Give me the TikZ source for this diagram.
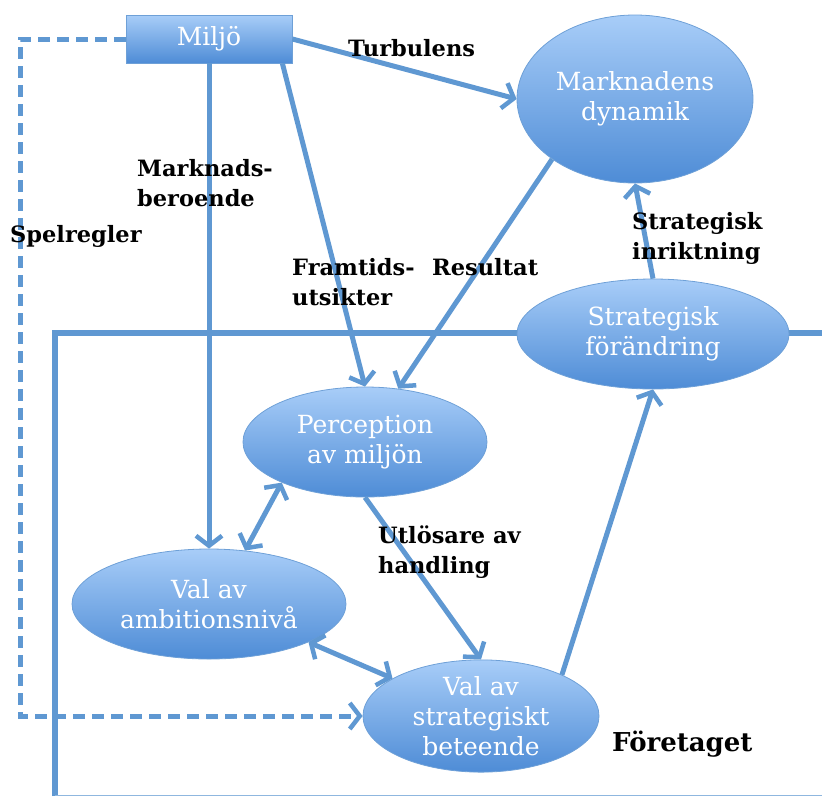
\documentclass[tikz,border=0pt]{standalone}
\usepackage{fontspec}
\setmainfont{DejaVu Serif}
\usetikzlibrary{shapes.geometric,arrows.meta}
\definecolor{linec}{RGB}{95,152,210}
\definecolor{ntop}{RGB}{168,205,248}
\definecolor{nbot}{RGB}{78,140,214}
\definecolor{nborder}{RGB}{110,160,215}
\tikzset{
  box/.style={draw=nborder,line width=0.8pt,top color=ntop,bottom color=nbot,text=white,
    font=\fontsize{25}{30}\selectfont,align=center,inner sep=0pt},
  ell/.style={box,ellipse},
  lbl/.style={font=\bfseries\fontsize{22.5}{30}\selectfont,text=black,align=left,anchor=west,inner sep=0pt},
  tipa/.tip={Straight Barb[length=10pt,width=26pt,line width=4.5pt]},
  arr/.style={draw=linec,line width=5pt,-tipa},
  darr/.style={draw=linec,line width=5pt,tipa-tipa},
  frame/.style={draw=linec,line width=6pt},
  dsh/.style={draw=linec,line width=5pt,dash pattern=on 12pt off 7pt},
}
\begin{document}
\begin{tikzpicture}[x=1pt,y=-1pt]
\useasboundingbox (0,0) rectangle (822,796);
% company frame
\coordinate (f1) at (55,796);
\coordinate (f2) at (55,333);
\coordinate (f3) at (822,333);
\draw[frame,line join=miter] (f1) -- (f2) -- (f3);
\coordinate (b1) at (55,795);
\coordinate (b2) at (822,795);
\draw[draw=linec!70,line width=1pt] (b1) -- (b2);
% nodes
\node[box,minimum width=166pt,minimum height=48pt] (miljo) at (209,39) {Miljö};
\node[ell,minimum width=236pt,minimum height=168pt] (md) at (635,99) {Marknadens\\dynamik};
\node[ell,minimum width=272pt,minimum height=110pt] (sf) at (653,334) {Strategisk\\förändring};
\node[ell,minimum width=244pt,minimum height=110pt] (pm) at (365,442) {Perception\\av miljön};
\node[ell,minimum width=274pt,minimum height=110pt] (va) at (209,604) {Val av\\ambitionsnivå};
\node[ell,minimum width=236pt,minimum height=108pt] (vs) at (481,716) {Val av\\strategiskt\\beteende};
% dashed rules
\coordinate (d1) at (20,39);
\coordinate (d2) at (20,716);
\draw[dsh,-tipa] (miljo.west) -- (d1) -- (d2) -- (vs.west);
% connectors
\draw[arr] (miljo.east) -- (md.west);
\draw[arr] (miljo.south) -- (va.north);
\draw[arr] ([xshift=-10pt]miljo.south east) -- (pm.north);
\draw[arr] (md.216) -- (pm.58);
\draw[arr] (sf.north) -- (md.south);
\draw[arr] (vs.27) -- (sf.south);
\draw[arr] (pm.south) -- (vs.north);
\draw[darr] (pm.206) -- (va.56);
\draw[darr] (va.339) -- (vs.157);
% labels
\node[lbl] (lturb) at (348,48) {Turbulens};
\node[lbl] (lmark) at (137,183) {Marknads-\\beroende};
\node[lbl] (lspel) at (10,236) {Spelregler};
\node[lbl] (lfram) at (292,282) {Framtids-\\utsikter};
\node[lbl] (lres) at (432,267) {Resultat};
\node[lbl] (lstr) at (632,238) {Strategisk\\inriktning};
\node[lbl] (lutl) at (378,552) {Utlösare av\\handling};
\node[lbl,font=\bfseries\fontsize{26}{30}\selectfont] (lfor) at (612,744) {Företaget};
\end{tikzpicture}
\end{document}
